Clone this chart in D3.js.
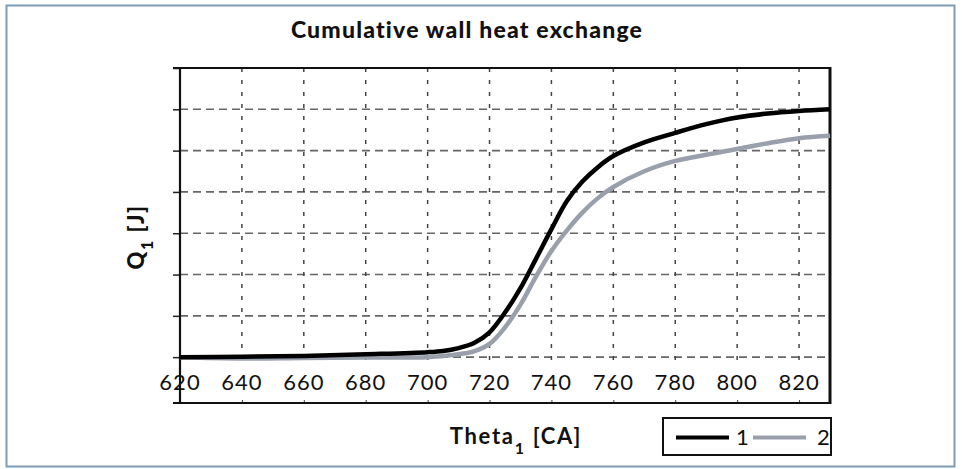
<!DOCTYPE html>
<html>
<head>
<meta charset="utf-8">
<script src="https://cdn.jsdelivr.net/npm/d3@7"></script>
<style>
  body { margin: 0; background: #fff; }
  svg { display: block; }
</style>
</head>
<body>
<svg></svg>
<script>
  // crank angle [CA] and cumulative wall heat (in grid units, no tick labels on y)
  var theta = [620, 640, 660, 680, 700, 705, 710, 715, 720, 725, 730, 735, 740, 745, 750, 755, 760, 770, 780, 790, 800, 810, 820, 830];
  var q1 = [0.0, 0.01, 0.03, 0.07, 0.12, 0.15, 0.22, 0.34, 0.6, 1.08, 1.67, 2.38, 3.1, 3.78, 4.25, 4.6, 4.87, 5.2, 5.43, 5.64, 5.8, 5.9, 5.96, 6.0];
  var q2 = [0.0, -0.03, -0.02, -0.01, 0.0, 0.03, 0.07, 0.14, 0.32, 0.72, 1.27, 1.95, 2.57, 3.07, 3.5, 3.85, 4.12, 4.5, 4.75, 4.9, 5.04, 5.18, 5.3, 5.36];
  var xTicks = [620, 640, 660, 680, 700, 720, 740, 760, 780, 800, 820];
  var yGrid = [0, 1, 2, 3, 4, 5, 6, 7];
  var seriesNames = ["1", "2"];

(function() {
  var width = 962, height = 469;
  var pLeft = 180, pRight = 830, pTop = 68, pBottom = 403;
  var font = 'Lato, "Open Sans", sans-serif';

  var svg = d3.select('svg')
              .attr('width', width)
              .attr('height', height);

  // outer frame
  svg.append('rect')
     .attr('x', 6.5).attr('y', 5.5)
     .attr('width', 948).attr('height', 461)
     .attr('fill', '#fff')
     .attr('stroke', '#7f9cb5')
     .attr('stroke-width', 2);

  var xScale = d3.scaleLinear()
                 .domain([620, 830])
                 .range([pLeft, pRight]);
  var yScale = d3.scaleLinear()
                 .domain([-1.11, 7])
                 .range([pBottom, pTop]);

  // horizontal dashed grid
  svg.append('g')
     .selectAll('line')
     .data(yGrid.slice(0, 7))
     .enter()
       .append('line')
       .attr('x1', pLeft).attr('x2', pRight)
       .attr('y1', d => yScale(d)).attr('y2', d => yScale(d))
       .attr('stroke', '#666')
       .attr('stroke-width', 1.6)
       .attr('stroke-dasharray', '8,5');

  // vertical dashed grid
  svg.append('g')
     .selectAll('line')
     .data(xTicks.slice(1))
     .enter()
       .append('line')
       .attr('x1', d => xScale(d)).attr('x2', d => xScale(d))
       .attr('y1', pTop).attr('y2', yScale(0) + 5)
       .attr('stroke', '#444')
       .attr('stroke-width', 1.5)
       .attr('stroke-dasharray', '4,8');

  // left axis with ticks on gridlines
  var leftAxis = d3.axisLeft(yScale)
                   .tickValues(yGrid)
                   .tickSize(7)
                   .tickFormat('');
  svg.append('g')
     .attr('transform', `translate(${pLeft},0)`)
     .call(leftAxis)
     .call(g => g.select('.domain').remove())
     .call(g => g.selectAll('line').attr('stroke', '#222').attr('stroke-width', 1.5));

  // bottom axis: small ticks, labels sit between zero line and frame
  var bottomAxis = d3.axisTop(xScale)
                     .tickValues(xTicks)
                     .tickSize(3)
                     .tickFormat('');
  svg.append('g')
     .attr('transform', `translate(0,${pBottom})`)
     .call(bottomAxis)
     .call(g => g.select('.domain').remove())
     .call(g => g.selectAll('line').attr('stroke', '#444'));

  svg.append('g')
     .selectAll('text')
     .data(xTicks)
     .enter()
       .append('text')
       .attr('x', d => xScale(d))
       .attr('y', 390)
       .style('text-anchor', 'middle')
       .style('font-family', font)
       .style('font-size', '22px')
       .style('letter-spacing', '1px')
       .attr('fill', '#111')
       .text(d => d);

  // frame lines
  svg.append('line').attr('x1', pLeft - 7).attr('x2', pRight).attr('y1', pTop).attr('y2', pTop)
     .attr('stroke', '#111').attr('stroke-width', 2.2);
  svg.append('line').attr('x1', pLeft - 7).attr('x2', pRight).attr('y1', pBottom).attr('y2', pBottom)
     .attr('stroke', '#111').attr('stroke-width', 2.2);
  svg.append('line').attr('x1', pLeft).attr('x2', pLeft).attr('y1', pTop).attr('y2', pBottom + 1)
     .attr('stroke', '#111').attr('stroke-width', 2.2);
  svg.append('line').attr('x1', pRight).attr('x2', pRight).attr('y1', pTop - 1).attr('y2', pBottom + 1)
     .attr('stroke', '#111').attr('stroke-width', 3);

  // curves
  var line = d3.line()
               .x(d => xScale(d[0]))
               .y(d => yScale(d[1]))
               .curve(d3.curveCatmullRom.alpha(0.5));

  svg.append('path')
     .datum(theta.map((t, i) => [t, q2[i]]))
     .attr('d', line)
     .attr('fill', 'none')
     .attr('stroke', '#9aa0ab')
     .attr('stroke-width', 4.5);

  svg.append('path')
     .datum(theta.map((t, i) => [t, q1[i]]))
     .attr('d', line)
     .attr('fill', 'none')
     .attr('stroke', '#000')
     .attr('stroke-width', 4.5);

  // title
  svg.append('text')
     .attr('x', 467)
     .attr('y', 38)
     .style('text-anchor', 'middle')
     .style('font-family', font)
     .style('font-weight', 900)
     .style('font-size', '23px')
     .style('letter-spacing', '1.2px')
     .attr('fill', '#111')
     .text('Cumulative wall heat exchange');

  // y label
  var yLab = svg.append('text')
     .attr('transform', 'translate(144,237) rotate(-90)')
     .style('text-anchor', 'middle')
     .style('font-family', font)
     .style('font-weight', 900)
     .style('font-size', '22px')
     .style('letter-spacing', '1.5px')
     .attr('fill', '#111');
  yLab.append('tspan').text('Q');
  yLab.append('tspan').attr('dy', 9).style('font-size', '16px').text('1');
  yLab.append('tspan').attr('dy', -9).text(' [J]');

  // x label
  var xLab = svg.append('text')
     .attr('x', 516)
     .attr('y', 444)
     .style('text-anchor', 'middle')
     .style('font-family', font)
     .style('font-weight', 'bold')
     .style('font-size', '22px')
     .style('letter-spacing', '1.7px')
     .attr('fill', '#111');
  xLab.append('tspan').text('Theta');
  xLab.append('tspan').attr('dy', 10).style('font-size', '16px').text('1');
  xLab.append('tspan').attr('dy', -10).text(' [CA]');

  // legend
  var legend = svg.append('g');
  legend.append('rect')
        .attr('x', 663).attr('y', 418)
        .attr('width', 168).attr('height', 37)
        .attr('fill', '#fff')
        .attr('stroke', '#111')
        .attr('stroke-width', 2);
  var legendColors = ['#000', '#9aa0ab'];
  seriesNames.forEach(function(name, i) {
    var x0 = 676 + i * 77;
    legend.append('line')
          .attr('x1', x0).attr('x2', x0 + 53)
          .attr('y1', 437.5).attr('y2', 437.5)
          .attr('stroke', legendColors[i])
          .attr('stroke-width', 4);
    legend.append('text')
          .attr('x', x0 + 60 + i * 4)
          .attr('y', 445)
          .style('font-family', font)
          .style('font-size', '22px')
          .attr('fill', '#111')
          .text(name);
  });
})();
</script>
</body>
</html>
